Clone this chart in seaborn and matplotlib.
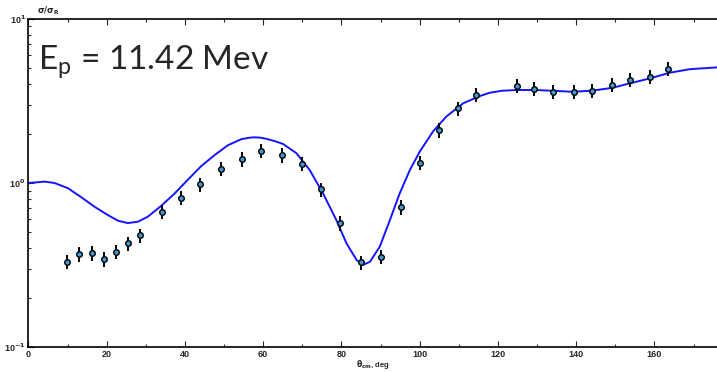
import numpy as np
import pandas as pd
import matplotlib
matplotlib.use("Agg")
import matplotlib.pyplot as plt
import seaborn as sns
from matplotlib.ticker import FixedLocator, LogLocator, NullFormatter

# measured points (theta_cm in deg, sigma/sigma_R)
theta_exp = [9.8, 13.0, 16.3, 19.3, 22.4, 25.4, 28.5, 34.2, 39.0, 43.9, 49.3,
             54.5, 59.5, 64.7, 69.9, 74.7, 79.7, 85.0, 90.1, 95.2, 100.2,
             104.9, 109.7, 114.5, 124.8, 129.2, 134.1, 139.4, 144.1, 149.2,
             153.7, 158.9, 163.6]
ratio_exp = [0.331, 0.369, 0.374, 0.343, 0.380, 0.429, 0.480, 0.666, 0.814,
             0.982, 1.22, 1.40, 1.57, 1.48, 1.31, 0.915, 0.570, 0.328, 0.355,
             0.714, 1.33, 2.10, 2.85, 3.45, 3.92, 3.76, 3.60, 3.60, 3.64,
             3.98, 4.25, 4.45, 4.98]
rel_err = 0.10

# optical model curve
theta_fit = [0.0, 4.2, 6.7, 10.1, 13.5, 16.9, 20.3, 22.9, 25.4, 28.0, 30.5,
             33.9, 37.4, 40.8, 44.2, 47.6, 51.0, 54.4, 56.6, 57.8, 59.3,
             60.8, 63.0, 65.1, 68.5, 71.9, 75.3, 78.7, 81.3, 83.9, 85.4,
             87.3, 89.8, 92.4, 94.9, 97.5, 100.0, 103.4, 106.8, 111.1, 115.4,
             117.9, 121.0, 124.7, 129.8, 134.9, 139.2, 144.3, 149.4, 153.7,
             158.8, 163.9, 169.0, 176.0]
ratio_fit = [1.00, 1.02, 1.00, 0.93, 0.82, 0.717, 0.638, 0.589, 0.570, 0.581,
             0.623, 0.724, 0.865, 1.05, 1.27, 1.48, 1.70, 1.85, 1.89, 1.90,
             1.89, 1.86, 1.80, 1.73, 1.52, 1.20, 0.865, 0.595, 0.429, 0.339,
             0.316, 0.331, 0.409, 0.595, 0.865, 1.20, 1.55, 2.06, 2.54, 3.06,
             3.39, 3.55, 3.65, 3.69, 3.69, 3.64, 3.60, 3.66, 3.81, 4.05,
             4.34, 4.70, 4.94, 5.07]

x_major = [0, 20, 40, 60, 80, 100, 120, 140, 160]
x_labels = ["0", "20", "40", "60", "80", "100", "120", "140", "160"]

df_exp = pd.DataFrame({"theta": theta_exp, "ratio": ratio_exp})
df_fit = pd.DataFrame({"theta": theta_fit, "ratio": ratio_fit})

sns.set_style("ticks")
plt.rcParams["font.family"] = ["Liberation Sans", "DejaVu Sans"]

fig = plt.figure(figsize=(7.17, 3.72), dpi=100)
ax = fig.add_axes([0.0396, 0.067, 0.9604, 0.882])

# fit curve
sns.lineplot(data=df_fit, x="theta", y="ratio", ax=ax, color="#1414ff",
             linewidth=1.4, zorder=2)

# error bars then points
yerr = df_exp["ratio"] * rel_err
ax.errorbar(df_exp["theta"], df_exp["ratio"], yerr=yerr, fmt="none",
            ecolor="black", elinewidth=1.4, capsize=0, zorder=3)
sns.scatterplot(data=df_exp, x="theta", y="ratio", ax=ax, s=16,
                color="#3d9ad6", edgecolor="black", linewidth=1.0, zorder=4)

ax.set_yscale("log")
ax.set_xlim(0, 176)
ax.set_ylim(0.1, 10)

ax.xaxis.set_major_locator(FixedLocator(x_major))
ax.xaxis.set_minor_locator(FixedLocator(list(range(10, 180, 20))))
ax.set_xticklabels(x_labels, fontsize=6.5, fontweight="bold")
ax.yaxis.set_major_locator(FixedLocator([0.1, 1, 10]))
ax.yaxis.set_minor_locator(LogLocator(base=10, subs=np.arange(2, 10)))
ax.yaxis.set_minor_formatter(NullFormatter())
ax.set_yticklabels([r"10$^{\mathbf{-1}}$", r"10$^{\mathbf{0}}$",
                    r"10$^{\mathbf{1}}$"], fontsize=6.5, fontweight="bold")

ax.tick_params(which="both", direction="in", top=True, right=False,
               width=0.8, pad=2)
ax.tick_params(which="major", length=4)
ax.tick_params(which="minor", length=2.5)

for side in ["left", "bottom", "top"]:
    ax.spines[side].set_linewidth(1.2)
    ax.spines[side].set_color("black")
ax.spines["right"].set_visible(False)

ax.set_xlabel("")
ax.set_ylabel("")
ax.text(0.5, -0.032, r"$\mathbf{\theta_{cm}}$, deg", transform=ax.transAxes,
        ha="center", va="top", fontsize=5.5, fontweight="bold")
ax.text(0.013, 1.005, r"$\mathbf{\sigma/\sigma_R}$", transform=ax.transAxes,
        ha="left", va="bottom", fontsize=6, fontweight="bold")

ax.text(0.014, 0.925, r"E$_\mathregular{p}$ = 11.42 Mev", transform=ax.transAxes,
        ha="left", va="top", fontsize=24, family=["Lato", "DejaVu Sans"])

fig.savefig("out.png", dpi=100)
